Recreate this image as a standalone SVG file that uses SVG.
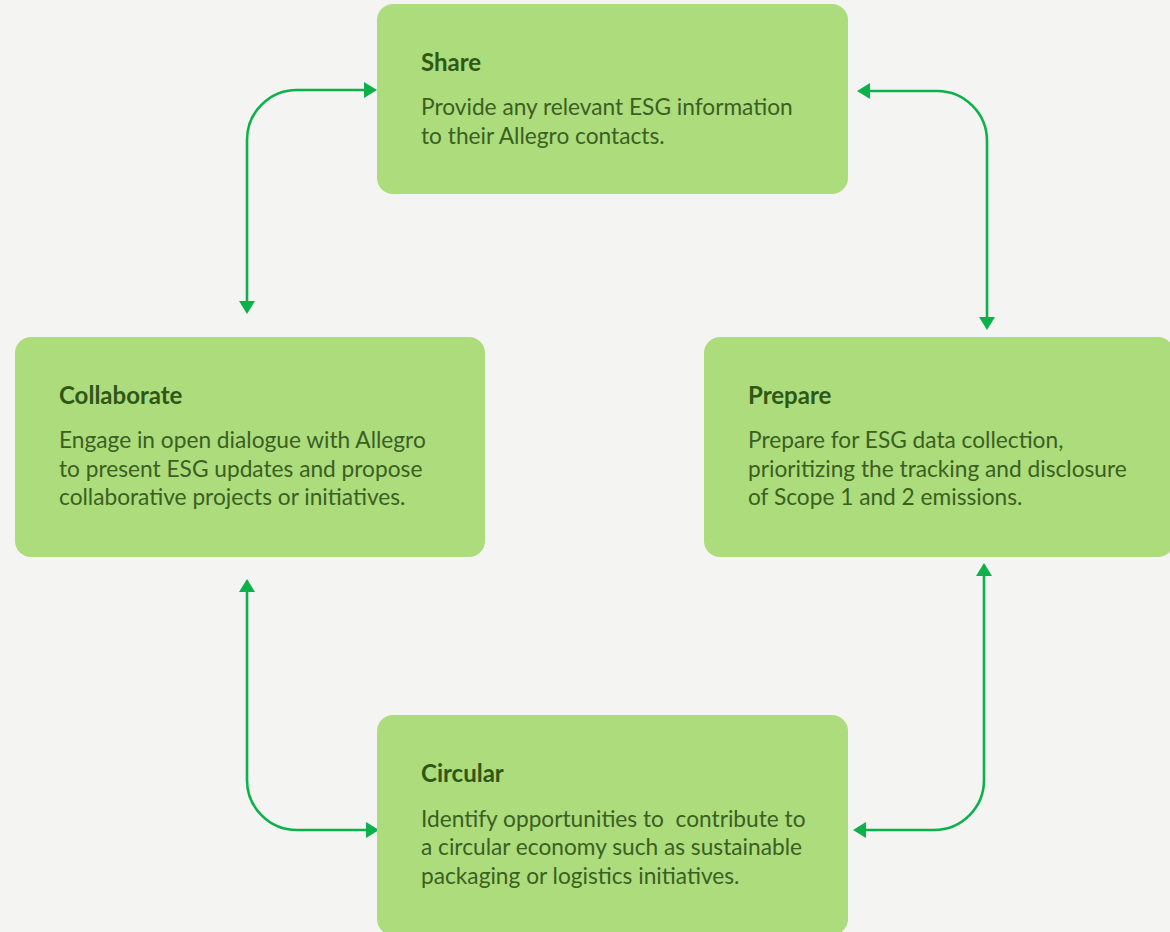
<svg xmlns="http://www.w3.org/2000/svg" width="1170" height="932" viewBox="0 0 1170 932">
<style>
.box{fill:#addc7c;}
.title{font-family:Lato,"Open Sans",sans-serif;font-weight:700;font-size:24px;fill:#2f5716;}
.body{font-family:Lato,"Open Sans",sans-serif;font-size:22.7px;fill:#3a6022;}
.conn{fill:none;stroke:#0db14b;stroke-width:2.6;marker-start:url(#ah);marker-end:url(#ah);}
</style>
<defs>
<marker id="ah" viewBox="0 0 13 16" refX="0" refY="8" markerWidth="13" markerHeight="16" markerUnits="userSpaceOnUse" orient="auto-start-reverse">
<path d="M0,0 L13,8 L0,16 z" fill="#0db14b"/>
</marker>
</defs>
<rect width="1170" height="932" fill="#f4f4f2"/>
<g id="connectors">
<path class="conn" d="M247,301 V140 A50,50 0 0 1 297,90 H364"/>
<path class="conn" d="M870,91 H937 A50,50 0 0 1 987,141 V317"/>
<path class="conn" d="M247,592 V780 A50,50 0 0 0 297,830 H366"/>
<path class="conn" d="M984,576 V780 A50,50 0 0 1 934,830 H866"/>
</g>
<g id="share">
<rect class="box" x="377" y="4" width="471" height="190" rx="16"/>
<text class="title" x="421" y="71">Share</text>
<text class="body" x="421" y="115">Provide any relevant ESG information</text>
<text class="body" x="421" y="144">to their Allegro contacts.</text>
</g>
<g id="collaborate">
<rect class="box" x="15" y="337" width="470" height="220" rx="16"/>
<text class="title" x="59" y="404">Collaborate</text>
<text class="body" x="59" y="448">Engage in open dialogue with Allegro</text>
<text class="body" x="59" y="477">to present ESG updates and propose</text>
<text class="body" x="59" y="505">collaborative projects or initiatives.</text>
</g>
<g id="prepare">
<rect class="box" x="704" y="337" width="470" height="220" rx="16"/>
<text class="title" x="748" y="404">Prepare</text>
<text class="body" x="748" y="448">Prepare for ESG data collection,</text>
<text class="body" x="748" y="477">prioritizing the tracking and disclosure</text>
<text class="body" x="748" y="505">of Scope 1 and 2 emissions.</text>
</g>
<g id="circular">
<rect class="box" x="377" y="715" width="471" height="220" rx="16"/>
<text class="title" x="421" y="782">Circular</text>
<text class="body" x="421" y="827" xml:space="preserve">Identify opportunities to  contribute to</text>
<text class="body" x="421" y="855">a circular economy such as sustainable</text>
<text class="body" x="421" y="884">packaging or logistics initiatives.</text>
</g>
</svg>
